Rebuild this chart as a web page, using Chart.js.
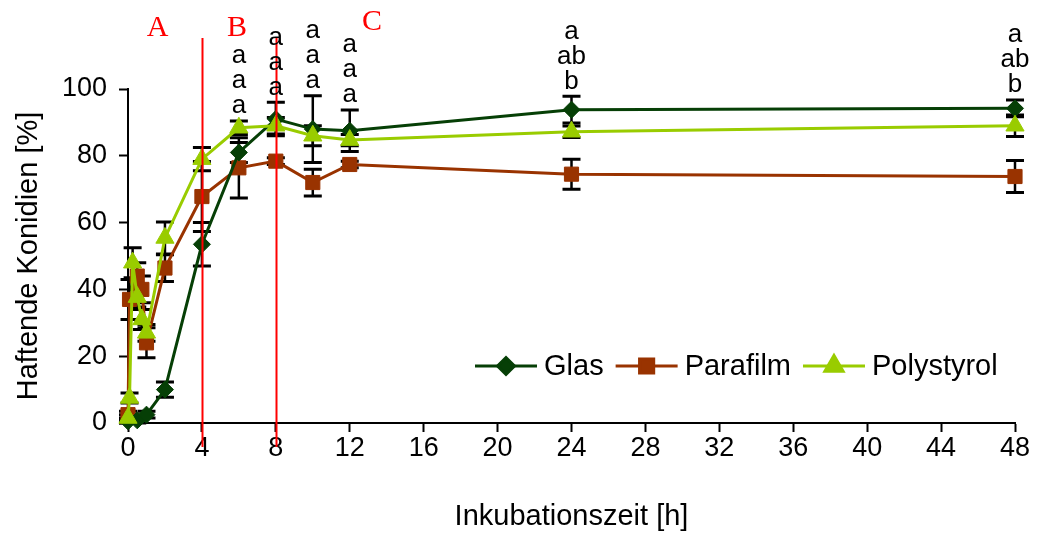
<!DOCTYPE html>
<html>
<head>
<meta charset="utf-8">
<script src="https://cdn.jsdelivr.net/npm/chart.js@4.4.1/dist/chart.umd.min.js"></script>
<style>
  html, body { margin: 0; padding: 0; background: #fff; }
  #wrap { width: 1038px; height: 536px; }
</style>
</head>
<body>
<div id="wrap"><canvas id="myChart" width="1038" height="536"></canvas></div>
<script>
// Haftende Konidien [%] ueber Inkubationszeit [h]
const glasTime = [0, 0.5, 1, 2, 4, 6, 8, 10, 12, 24, 48];
const glasValues = [0.5, 0.8, 2.5, 10, 53.5, 81, 91, 88, 87.5, 93.8, 94.2];
const glasErr = [0.5, 0.8, 1, 2.3, 6.5, 3, 5, 10, 6.2, 4, 2.5];

const parafilmTime = [0, 0.083, 0.5, 0.75, 1, 2, 4, 6, 8, 10, 12, 24, 48];
const parafilmValues = [2.5, 37, 44, 40, 24, 46.4, 67.8, 76.4, 78.4, 72, 77.4, 74.5, 73.8];
const parafilmErr = [1, 6, 4, 4, 4.5, 4, 10.5, 9, 1, 4, 1, 4.5, 4.8];

const polyTime = [0, 0.083, 0.25, 0.5, 0.75, 1, 2, 4, 6, 8, 10, 12, 24, 48];
const polyValues = [1.5, 7.5, 48, 37.7, 31, 27, 55.4, 79, 88.4, 89, 86, 84.7, 87.2, 89];
const polyErr = [1, 1.5, 4.5, 3, 3, 2.5, 4.8, 3.5, 2, 2.5, 3, 1.7, 1.7, 3.2];

// Signifikanz-Buchstaben
const sigTimes = [6, 8, 10, 12, 24, 48];
const sigLetters = [
    ['a', 'a', 'a'],
    ['a', 'a', 'a'],
    ['a', 'a', 'a'],
    ['a', 'a', 'a'],
    ['a', 'ab', 'b'],
    ['a', 'ab', 'b']
];

// Phasen-Grenzen und -Namen
const phaseLines = [4, 8];
const phaseNames = ['A', 'B', 'C'];
const phaseNameAt = [1.6, 5.9, 13.2];

const xTicks = [0, 4, 8, 12, 16, 20, 24, 28, 32, 36, 40, 44, 48];

const SANS = "'Liberation Sans', Arial, sans-serif";
const SERIF = "'Liberation Serif', 'Times New Roman', serif";

const series = [
    { label: 'Glas', time: glasTime, values: glasValues, err: glasErr, color: '#063f06', style: 'rectRot', radius: 8.5 },
    { label: 'Parafilm', time: parafilmTime, values: parafilmValues, err: parafilmErr, color: '#993300', style: 'rect', radius: 10 },
    { label: 'Polystyrol', time: polyTime, values: polyValues, err: polyErr, color: '#99cc00', style: 'triangle', radius: 10.5 }
];

function toPoints(time, values) {
    return time.map((t, i) => ({ x: t, y: values[i] }));
}

const extras = {
    id: 'extras',
    beforeDatasetsDraw(chart) {
        const ctx = chart.ctx;
        const xs = chart.scales.x, ys = chart.scales.y;
        ctx.save();
        ctx.strokeStyle = '#000';
        series.forEach(s => {
            s.time.forEach((t, i) => {
                const px = xs.getPixelForValue(t);
                const top = ys.getPixelForValue(s.values[i] + s.err[i]);
                const bot = ys.getPixelForValue(Math.max(0, s.values[i] - s.err[i]));
                ctx.lineWidth = 2.5;
                ctx.beginPath();
                ctx.moveTo(px, top);
                ctx.lineTo(px, bot);
                ctx.stroke();
                ctx.lineWidth = 3;
                ctx.beginPath();
                ctx.moveTo(px - 9, top);
                ctx.lineTo(px + 9, top);
                ctx.moveTo(px - 9, bot);
                ctx.lineTo(px + 9, bot);
                ctx.stroke();
            });
        });
        ctx.restore();
    },
    afterDraw(chart) {
        const ctx = chart.ctx;
        const xs = chart.scales.x, ys = chart.scales.y;
        ctx.save();

        // rote Linien
        ctx.strokeStyle = '#ff0000';
        ctx.lineWidth = 2;
        phaseLines.forEach(t => {
            const px = Math.round(xs.getPixelForValue(t)) + 0.5;
            ctx.beginPath();
            ctx.moveTo(px, 38);
            ctx.lineTo(px, 447);
            ctx.stroke();
        });
        ctx.fillStyle = '#ff0000';
        ctx.font = '30px ' + SERIF;
        ctx.textAlign = 'center';
        ctx.textBaseline = 'middle';
        phaseNames.forEach((n, i) => {
            ctx.fillText(n, xs.getPixelForValue(phaseNameAt[i]), i === 2 ? 22 : 28);
        });

        // Buchstaben ueber den Fehlerbalken
        ctx.fillStyle = '#000';
        ctx.font = '26px ' + SANS;
        sigTimes.forEach((t, k) => {
            let topVal = 0;
            series.forEach(s => {
                const i = s.time.indexOf(t);
                if (i >= 0) topVal = Math.max(topVal, s.values[i] + s.err[i]);
            });
            let y = ys.getPixelForValue(topVal) - 15;
            const letters = sigLetters[k];
            for (let j = letters.length - 1; j >= 0; j--) {
                ctx.fillText(letters[j], xs.getPixelForValue(t), y);
                y -= 25;
            }
        });

        // Legende
        ctx.font = '29px ' + SANS;
        ctx.textAlign = 'left';
        let lx = 475;
        const ly = 366;
        series.forEach(s => {
            ctx.strokeStyle = s.color;
            ctx.fillStyle = s.color;
            ctx.lineWidth = 3;
            ctx.beginPath();
            ctx.moveTo(lx, ly);
            ctx.lineTo(lx + 62, ly);
            ctx.stroke();
            Chart.helpers.drawPoint(ctx, { pointStyle: s.style, radius: s.radius, rotation: 0, borderWidth: 1 }, lx + 31, ly);
            ctx.fillStyle = '#000';
            ctx.fillText(s.label, lx + 69, ly + 1);
            lx += 69 + ctx.measureText(s.label).width + 12;
        });
        ctx.restore();
    }
};

Chart.defaults.color = '#000';
Chart.defaults.font.family = SANS;

const ctx = document.getElementById('myChart').getContext('2d');
const myChart = new Chart(ctx, {
    type: 'scatter',
    data: {
        datasets: series.map((s, i) => ({
            label: s.label,
            data: toPoints(s.time, s.values),
            showLine: true,
            borderColor: s.color,
            backgroundColor: s.color,
            borderWidth: 3,
            pointStyle: s.style,
            pointRadius: s.radius,
            pointHoverRadius: s.radius,
            pointBorderWidth: 1,
            tension: 0,
            clip: false,
            order: [2, 3, 1][i]
        }))
    },
    options: {
        responsive: false,
        animation: false,
        devicePixelRatio: 1,
        layout: { padding: { top: 89, right: 23, left: 0, bottom: 0 } },
        plugins: {
            legend: { display: false },
            tooltip: { enabled: false }
        },
        scales: {
            x: {
                type: 'linear',
                min: 0,
                max: 48,
                afterFit: s => { s.height = 113; },
                afterBuildTicks: s => { s.ticks = xTicks.map(v => ({ value: v })); },
                ticks: { font: { size: 27 }, padding: 0, maxRotation: 0, autoSkip: false },
                grid: { drawOnChartArea: false, drawTicks: true, tickLength: 9, tickColor: '#000', tickWidth: 2 },
                border: { display: true, color: '#000', width: 2 },
                title: { display: true, text: 'Inkubationszeit [h]', font: { size: 29 }, padding: { top: 0, bottom: 2 } }
            },
            y: {
                min: 0,
                max: 100,
                afterFit: s => { s.width = 128; },
                ticks: { stepSize: 20, font: { size: 27 }, padding: 12 },
                grid: { drawOnChartArea: false, drawTicks: true, tickLength: 9, tickColor: '#000', tickWidth: 2 },
                border: { display: true, color: '#000', width: 2 },
                title: { display: true, text: 'Haftende Konidien [%]', font: { size: 29 }, padding: { top: 12, bottom: 0 } }
            }
        }
    },
    plugins: [extras]
});
</script>
</body>
</html>
